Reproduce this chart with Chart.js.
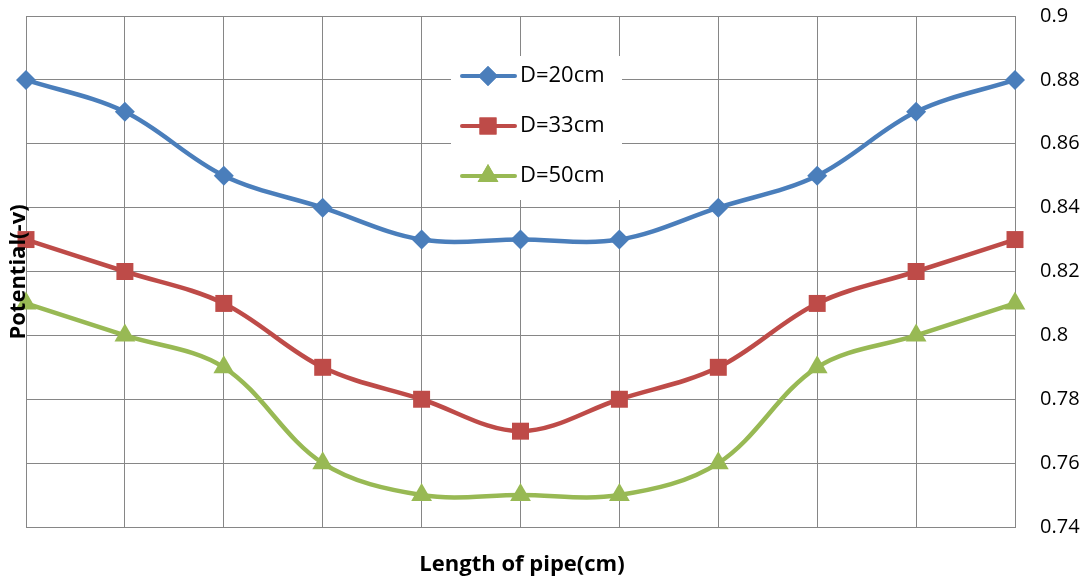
<!DOCTYPE html>
<html>
<head>
<meta charset="utf-8">
<script src="https://cdn.jsdelivr.net/npm/chart.js@4.4.1/dist/chart.umd.min.js"></script>
<style>
  html, body { margin: 0; padding: 0; background: #fff; }
  #wrap { width: 1092px; height: 582px; }
</style>
</head>
<body>
<div id="wrap"><canvas id="potentialChart" width="1092" height="582"></canvas></div>
<script>
const positions = ['0', '1', '2', '3', '4', '5', '6', '7', '8', '9', '10'];
const d20 = [0.88, 0.87, 0.85, 0.84, 0.83, 0.83, 0.83, 0.84, 0.85, 0.87, 0.88];
const d33 = [0.83, 0.82, 0.81, 0.79, 0.78, 0.77, 0.78, 0.79, 0.81, 0.82, 0.83];
const d50 = [0.81, 0.80, 0.79, 0.76, 0.75, 0.75, 0.75, 0.76, 0.79, 0.80, 0.81];
const seriesNames = ['D=20cm', 'D=33cm', 'D=50cm'];
const yTitle = 'Potential(-v)';
const xTitle = 'Length of pipe(cm)';

const FONT = '"Open Sans", "Liberation Sans", sans-serif';
const gridColor = '#868686';

// legend box inside the plot + rotated/bottom axis titles
const extrasPlugin = {
    id: 'extras',
    afterDraw(chart) {
        const ctx = chart.ctx;
        ctx.save();
        // legend
        ctx.fillStyle = '#fff';
        ctx.fillRect(451, 56, 171, 144);
        chart.data.datasets.forEach((ds, i) => {
            const y = 76 + i * 50;
            ctx.strokeStyle = ds.borderColor;
            ctx.lineWidth = 4;
            ctx.lineCap = 'round';
            ctx.beginPath();
            ctx.moveTo(462, y);
            ctx.lineTo(515, y);
            ctx.stroke();
            ctx.fillStyle = ds.backgroundColor;
            Chart.helpers.drawPoint(ctx, {pointStyle: ds.pointStyle, radius: ds.pointRadius, borderWidth: 0}, 488, y);
            ctx.fill();
            ctx.fillStyle = '#000';
            ctx.font = '22px ' + FONT;
            ctx.textAlign = 'left';
            ctx.textBaseline = 'middle';
            ctx.fillText(ds.label, 520, y);
        });
        // axis titles
        ctx.fillStyle = '#000';
        ctx.font = 'bold 22px ' + FONT;
        ctx.textAlign = 'center';
        ctx.textBaseline = 'middle';
        ctx.fillText(xTitle, 522, 565);
        ctx.translate(19, 272);
        ctx.rotate(-Math.PI / 2);
        ctx.fillText(yTitle, 0, 0);
        ctx.restore();
    }
};

const ctx = document.getElementById('potentialChart').getContext('2d');
const makeSet = (label, data, color, style, r) => ({
    label: label,
    data: data,
    borderColor: color,
    backgroundColor: color,
    pointBackgroundColor: color,
    pointBorderColor: color,
    pointBorderWidth: 0,
    pointStyle: style,
    pointRadius: r,
    borderWidth: 4.5,
    tension: 0.35,
    fill: false
});

new Chart(ctx, {
    type: 'line',
    data: {
        labels: positions,
        datasets: [
            makeSet(seriesNames[0], d20, '#4a7ebb', 'rectRot', 10),
            makeSet(seriesNames[1], d33, '#be4b48', 'rect', 12),
            makeSet(seriesNames[2], d50, '#98b954', 'triangle', 12)
        ]
    },
    options: {
        responsive: false,
        animation: false,
        events: [],
        layout: { padding: { left: 26, top: 16, right: 0, bottom: 0 } },
        plugins: {
            legend: { display: false },
            tooltip: { enabled: false }
        },
        scales: {
            x: {
                offset: false,
                grid: { color: gridColor, lineWidth: 1, drawTicks: false },
                border: { color: gridColor, width: 1 },
                ticks: { display: false },
                afterFit(scale) { scale.height = 55; }
            },
            y: {
                position: 'right',
                min: 0.74,
                max: 0.9,
                grid: { color: gridColor, lineWidth: 1, drawTicks: false },
                border: { color: gridColor, width: 1 },
                ticks: {
                    stepSize: 0.02,
                    padding: 25,
                    color: '#000',
                    font: { family: FONT, size: 20 },
                    callback: v => String(+v.toFixed(2))
                },
                afterFit(scale) {
                    scale.width = 77;
                    scale.paddingTop = 0;
                    scale.paddingBottom = 0;
                }
            }
        }
    },
    plugins: [extrasPlugin]
});
</script>
</body>
</html>
